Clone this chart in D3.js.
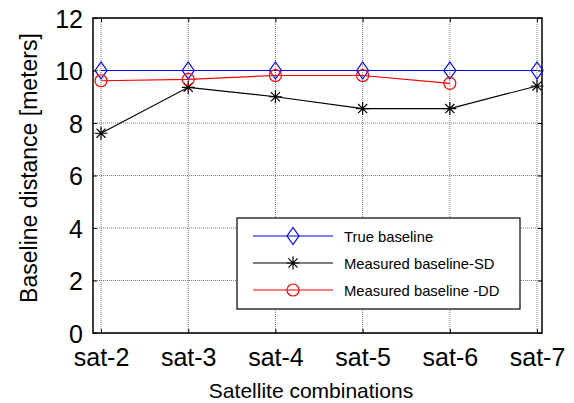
<!DOCTYPE html>
<html><head><meta charset="utf-8">
<script src="https://cdn.jsdelivr.net/npm/d3@7"></script>
<style>body{margin:0;background:#fff}svg{display:block}text{font-family:"Liberation Sans",Arial,sans-serif}</style>
</head><body><svg id="c" width="574" height="403"></svg>
<script>
const categories = ["sat-2","sat-3","sat-4","sat-5","sat-6","sat-7"];
const trueBaseline = [10,10,10,10,10,10];
const measuredSD = [7.61,9.36,9.0,8.55,8.55,9.41];
const measuredDD = [9.61,9.66,9.81,9.81,9.51];
const yTicks = [0,2,4,6,8,10,12];
const seriesNames = ["True baseline","Measured baseline-SD","Measured baseline -DD"];

const svg = d3.select("#c");
const L=93,R=542,T=18,B=333;
const x = d3.scaleLinear().domain([0.908,6.057]).range([L,R]);
const y = d3.scaleLinear().domain([0,12]).range([B,T]);
const idx = categories.map((d,i)=>i+1);

// grid
const g = svg.append("g");
g.selectAll(".gx").data(idx).enter().append("line")
 .attr("x1",d=>x(d)).attr("x2",d=>x(d)).attr("y1",T).attr("y2",B)
 .attr("stroke","#7a7a7a").attr("stroke-width",1).attr("stroke-dasharray","1,1");
g.selectAll(".gy").data(yTicks).enter().append("line")
 .attr("y1",d=>y(d)).attr("y2",d=>y(d)).attr("x1",L).attr("x2",R)
 .attr("stroke","#7a7a7a").attr("stroke-width",1).attr("stroke-dasharray","1,1");

// axes
const ax = svg.append("g").attr("transform",`translate(0,${B})`)
 .call(d3.axisBottom(x).tickValues(idx).tickFormat((d,i)=>categories[i]).tickSizeInner(-4).tickSizeOuter(0).tickPadding(0));
ax.select(".domain").remove();
ax.selectAll("text").attr("font-size",25).attr("fill","#000").attr("dy",null).attr("y",33);
const axT = svg.append("g").attr("transform",`translate(0,${T})`)
 .call(d3.axisTop(x).tickValues(idx).tickFormat("").tickSizeInner(-4).tickSizeOuter(0));
axT.select(".domain").remove();
const ay = svg.append("g").attr("transform",`translate(${L},0)`)
 .call(d3.axisLeft(y).tickValues(yTicks).tickSizeInner(-4).tickSizeOuter(0).tickPadding(0));
ay.select(".domain").remove();
ay.selectAll("text").attr("font-size",25).attr("fill","#000").attr("x",-10).attr("dy","0.36em");
const ayR = svg.append("g").attr("transform",`translate(${R},0)`)
 .call(d3.axisRight(y).tickValues(yTicks).tickFormat("").tickSizeInner(-4).tickSizeOuter(0));
ayR.select(".domain").remove();
svg.append("rect").attr("x",L).attr("y",T).attr("width",R-L).attr("height",B-T)
 .attr("fill","none").attr("stroke","#000").attr("stroke-width",1.5);

// lines
const line = d3.line().x((d,i)=>x(i+1)).y(d=>y(d));
const starPath = s=>{const a=s*0.7;return `M${-s},0L${s},0M0,${-s}L0,${s}M${-a},${-a}L${a},${a}M${-a},${a}L${a},${-a}`;};
function drawSeries(data,color,marker){
 svg.append("path").attr("d",line(data)).attr("fill","none").attr("stroke",color).attr("stroke-width",1.2);
 data.forEach((d,i)=>drawMarker(x(i+1),y(d),color,marker));
}
function drawMarker(cx,cy,color,marker){
 if(marker==="diamond"){
  svg.append("path").attr("d","M0,-8.5L6,0L0,8.5L-6,0Z").attr("transform",`translate(${cx},${cy})`)
   .attr("fill","none").attr("stroke",color).attr("stroke-width",1.2);
 } else if(marker==="circle"){
  svg.append("circle").attr("cx",cx).attr("cy",cy).attr("r",6)
   .attr("fill","none").attr("stroke",color).attr("stroke-width",1.2);
 } else {
  svg.append("path").attr("d",starPath(6.5)).attr("transform",`translate(${cx},${cy})`)
   .attr("fill","none").attr("stroke",color).attr("stroke-width",1.2);
 }
}
drawSeries(trueBaseline,"#0000ff","diamond");
drawSeries(measuredSD,"#000000","star");
drawSeries(measuredDD,"#ff0000","circle");

// legend
const lg = svg.append("g");
lg.append("rect").attr("x",237).attr("y",218).attr("width",283).attr("height",91)
 .attr("fill","#fff").attr("stroke","#000").attr("stroke-width",1.2);
const colors=["#0000ff","#000000","#ff0000"], markers=["diamond","star","circle"], ly=[236,263,290];
seriesNames.forEach((n,i)=>{
 lg.append("line").attr("x1",253).attr("x2",333).attr("y1",ly[i]).attr("y2",ly[i]).attr("stroke",colors[i]).attr("stroke-width",1.2);
 drawMarker(293,ly[i],colors[i],markers[i]);
 lg.append("text").attr("x",344).attr("y",ly[i]+6).attr("font-size",14.8).attr("fill","#000").text(n);
});

// labels
svg.append("text").attr("x",311).attr("y",398).attr("text-anchor","middle").attr("font-size",21).text("Satellite combinations");
svg.append("text").attr("transform",`translate(37,168) rotate(-90)`).attr("text-anchor","middle").attr("font-size",23).text("Baseline distance [meters]");
</script></body></html>
